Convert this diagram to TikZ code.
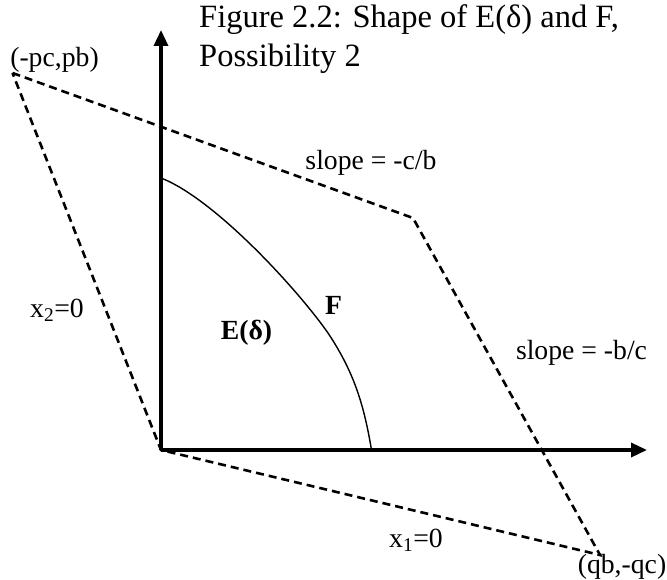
\documentclass[tikz,border=0pt]{standalone}
\usepackage{fontspec}
\setmainfont{Liberation Serif}
\usetikzlibrary{arrows.meta}
\begin{document}
\begin{tikzpicture}[x=1pt,y=-1pt,
  lbl/.style={inner sep=0pt,anchor=base,font=\fontsize{27.7}{32}\selectfont},
  blbl/.style={lbl,font=\fontsize{27.7}{32}\selectfont\bfseries},
  ttl/.style={inner sep=0pt,anchor=base west,font=\fontsize{32.5}{39}\selectfont},
  axis/.style={line width=3.4pt,-{Triangle[length=16pt,width=14pt]}},
  bound/.style={line width=2.6pt,dash pattern=on 8pt off 5pt},
  curve/.style={line width=1.4pt}]
\useasboundingbox (0,0) rectangle (667,580);
\coordinate (O) at (161,450);
\coordinate (Yt) at (161,30);
\coordinate (Xt) at (647,450);
\coordinate (A) at (12.5,73);
\coordinate (B) at (413,218);
\coordinate (C) at (600,555);
\coordinate (F0) at (161,178);
\coordinate (F1) at (328,333);
\coordinate (F2) at (371.5,450);
% dashed boundary
\draw[bound] (A) -- (B) -- (C) -- (O) -- cycle;
% axes
\draw[axis] (O) -- (Yt);
\draw[axis] (O) -- (Xt);
% frontier F
\draw[curve] (F0) .. controls (215,199) and (298,290) .. (F1)
  .. controls (354,372) and (364,405) .. (F2);
% labels
\node[ttl] (title1) at (199,27.5) {Figure 2.2: Shape of E(δ) and F,};
\node[ttl] (title2) at (199,66.5) {Possibility 2};
\node[lbl] (lA) at (54.5,67) {(-pc,pb)};
\node[lbl] (lS1) at (371,170) {slope = -c/b};
\node[lbl] (lX2) at (57,317.5) {x\textsubscript{2}=0};
\node[blbl] (lE) at (246.5,339.5) {E(δ)};
\node[blbl] (lF) at (333.5,315) {F};
\node[lbl] (lS2) at (581.5,359) {slope = -b/c};
\node[lbl] (lX1) at (416,547.5) {x\textsubscript{1}=0};
\node[lbl] (lC) at (622,573) {(qb,-qc)};
\end{tikzpicture}
\end{document}
